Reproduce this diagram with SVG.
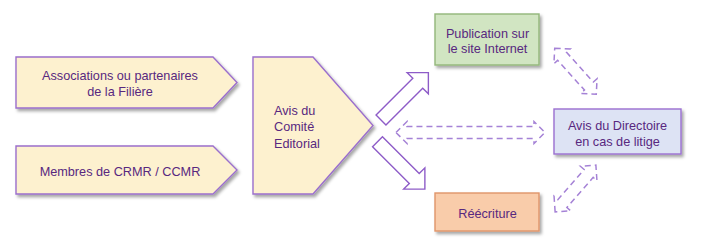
<svg xmlns="http://www.w3.org/2000/svg" width="720" height="248" viewBox="0 0 720 248">
<defs>
<filter id="sh" x="-10%" y="-10%" width="130%" height="140%">
<feDropShadow dx="2" dy="2.5" stdDeviation="1.5" flood-color="#000" flood-opacity="0.35"/>
</filter>
<path id="dbl" d="M-74.5,0 L-63.5,-11 L-63.5,-6 L63.5,-6 L63.5,-11 L74.5,0 L63.5,11 L63.5,6 L-63.5,6 L-63.5,11 Z"/>
<path id="dbs" d="M-31,0 L-20,-11 L-20,-6 L20,-6 L20,-11 L31,0 L20,11 L20,6 L-20,6 L-20,11 Z"/>
<path id="blk" d="M0,-7 L52,-7 L52,-15 L67,0 L52,15 L52,7 L0,7 Z"/>
</defs>
<style>
text{font-family:"Liberation Sans",Arial,sans-serif;font-size:12.7px;fill:#58287f}
.c{text-anchor:middle}
.pent{fill:#fdf1cf;stroke:#9b6fcc;stroke-width:1.4}
.blk{fill:#fff;stroke:#8e5cc8;stroke-width:1.4;stroke-linejoin:miter}
.dash{fill:none;stroke:#a582d6;stroke-width:1.5;stroke-dasharray:6 4}
</style>
<rect width="720" height="248" fill="#fff"/>
<g id="connectors">
<use href="#blk" class="blk" transform="translate(381,120) rotate(-45)"/>
<use href="#blk" class="blk" transform="translate(377.5,141.7) rotate(45)"/>
<use href="#dbl" class="dash" transform="translate(470.5,132.5)"/>
<use href="#dbs" class="dash" transform="translate(575.5,71.2) rotate(47.9)"/>
<use href="#dbs" class="dash" transform="translate(575.5,188.5) rotate(-48.9)"/>
</g>
<g id="associations">
<polygon class="pent" filter="url(#sh)" points="16,57 213,57 237,82.5 213,108 16,108"/>
<text class="c" x="120" y="80">Associations ou partenaires</text>
<text class="c" x="120" y="96">de la Filière</text>
</g>
<g id="membres">
<polygon class="pent" filter="url(#sh)" points="16,146 213,146 237,170 213,194 16,194"/>
<text class="c" x="120" y="176">Membres de CRMR / CCMR</text>
</g>
<g id="comite">
<polygon class="pent" filter="url(#sh)" points="253,57 313,57 373,125.5 313,194 253,194"/>
<text x="274" y="115">Avis du</text>
<text x="274" y="131">Comité</text>
<text x="274" y="147.5">Editorial</text>
</g>
<g id="publication">
<rect x="435" y="14" width="104" height="51" fill="#d1e5c2" stroke="#93b77a" stroke-width="1.4" filter="url(#sh)"/>
<text class="c" x="487.5" y="37.5">Publication sur</text>
<text class="c" x="487.5" y="53">le site Internet</text>
</g>
<g id="directoire">
<rect x="554" y="109" width="127" height="45" fill="#dde3f4" stroke="#9b6fd0" stroke-width="1.4" filter="url(#sh)"/>
<text class="c" x="617.5" y="129.5">Avis du Directoire</text>
<text class="c" x="617.5" y="145.5">en cas de litige</text>
</g>
<g id="reecriture">
<rect x="435" y="193" width="104" height="38" fill="#f9ccaa" stroke="#e0956a" stroke-width="1.4" filter="url(#sh)"/>
<text class="c" x="487.5" y="217.5">Réécriture</text>
</g>
</svg>
